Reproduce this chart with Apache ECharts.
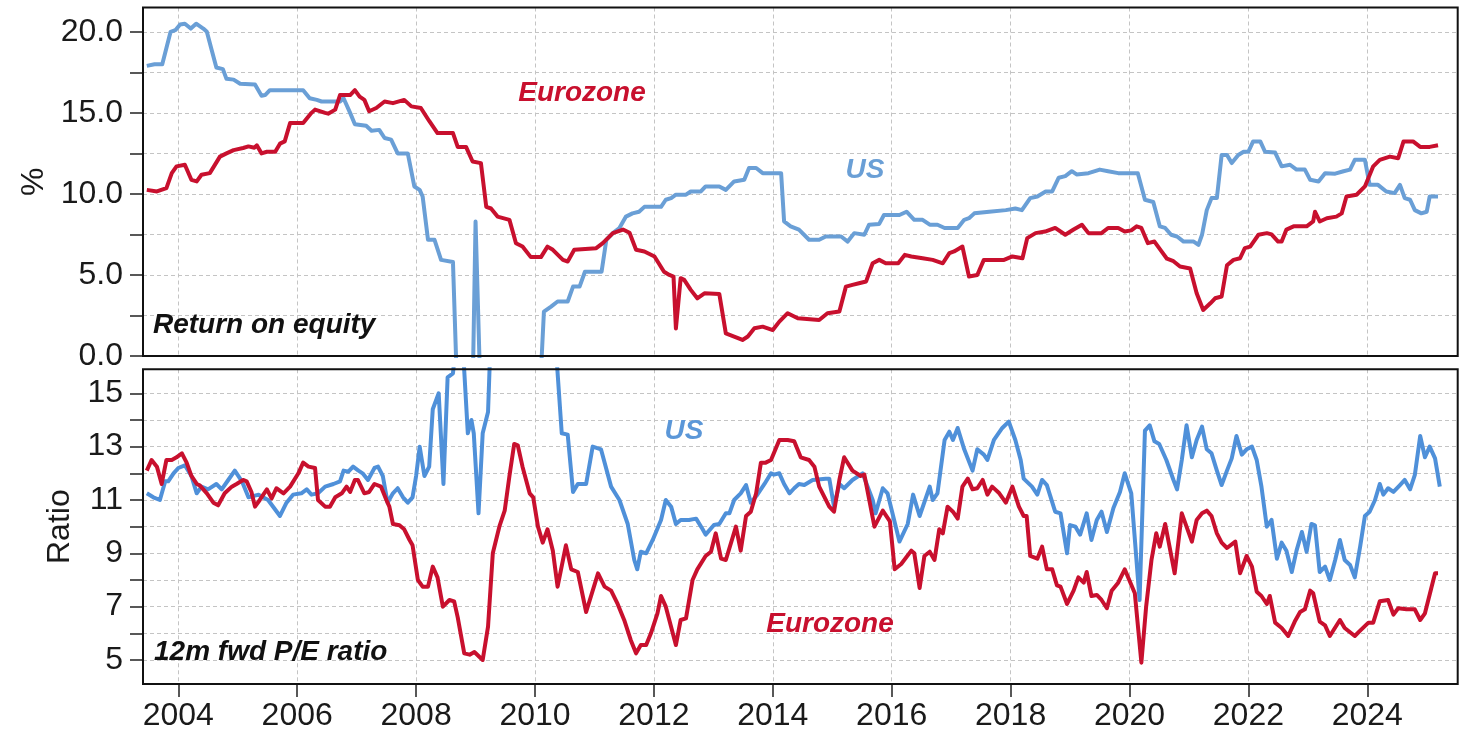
<!DOCTYPE html>
<html><head><meta charset="utf-8">
<script src="https://cdn.jsdelivr.net/npm/echarts@6/dist/echarts.min.js"></script>
<style>html,body{margin:0;padding:0;background:#fff}#c{width:1468px;height:740px}</style>
</head><body><div id="c"></div><script>
// x values are decimal years
const yearTicks = [2004,2006,2008,2010,2012,2014,2016,2018,2020,2022,2024];
const roeTicks = [0,2.5,5,7.5,10,12.5,15,17.5,20];
const roeLabels = [0,5,10,15,20];
const peTicks = [5,6,7,8,9,10,11,12,13,14,15];
const peLabels = [5,7,9,11,13,15];

// Return on equity, %
const roeUS = [[2003.47,17.9],[2003.60,18.0],[2003.73,18.0],[2003.80,19.0],[2003.87,20.0],[2003.95,20.1],[2004.03,20.45],[2004.11,20.5],[2004.21,20.2],[2004.30,20.5],[2004.42,20.2],[2004.48,20.0],[2004.56,18.9],[2004.64,17.8],[2004.75,17.7],[2004.81,17.1],[2004.93,17.05],[2005.04,16.8],[2005.29,16.75],[2005.40,16.06],[2005.46,16.1],[2005.54,16.4],[2006.10,16.4],[2006.21,15.9],[2006.33,15.8],[2006.41,15.7],[2006.72,15.7],[2006.78,15.9],[2006.89,15.0],[2006.97,14.3],[2007.16,14.2],[2007.25,13.9],[2007.38,13.95],[2007.47,13.45],[2007.58,13.35],[2007.69,12.5],[2007.86,12.5],[2007.97,10.46],[2008.06,10.25],[2008.11,9.84],[2008.20,7.17],[2008.31,7.17],[2008.42,5.93],[2008.62,5.8],[2008.68,-1],[2008.75,-8],[2008.83,-10],[2008.92,-9],[2009.00,8.3],[2009.08,-2],[2009.17,-8],[2009.33,-10],[2009.50,-8],[2009.67,-6],[2009.83,-4],[2010.00,-3],[2010.08,-2.5],[2010.15,2.74],[2010.27,3.05],[2010.38,3.36],[2010.55,3.36],[2010.64,4.28],[2010.75,4.28],[2010.84,5.2],[2011.12,5.2],[2011.20,7.17],[2011.31,7.58],[2011.42,7.9],[2011.53,8.6],[2011.64,8.8],[2011.75,8.9],[2011.84,9.2],[2012.12,9.2],[2012.20,9.64],[2012.29,9.74],[2012.37,9.95],[2012.54,9.95],[2012.62,10.15],[2012.79,10.15],[2012.87,10.46],[2013.10,10.46],[2013.21,10.25],[2013.35,10.77],[2013.52,10.87],[2013.60,11.6],[2013.72,11.6],[2013.83,11.28],[2014.14,11.28],[2014.19,8.3],[2014.30,8.0],[2014.44,7.8],[2014.61,7.17],[2014.78,7.17],[2014.89,7.37],[2015.15,7.37],[2015.26,7.06],[2015.37,7.58],[2015.54,7.48],[2015.62,8.1],[2015.79,8.15],[2015.87,8.7],[2016.13,8.7],[2016.25,8.9],[2016.38,8.4],[2016.52,8.4],[2016.64,8.1],[2016.77,8.1],[2016.89,7.9],[2017.11,7.9],[2017.22,8.4],[2017.30,8.5],[2017.39,8.8],[2017.64,8.9],[2017.92,9.0],[2018.08,9.1],[2018.19,9.0],[2018.33,9.74],[2018.45,9.84],[2018.59,10.15],[2018.70,10.15],[2018.81,11.0],[2018.92,11.1],[2019.03,11.4],[2019.11,11.2],[2019.31,11.28],[2019.50,11.5],[2019.64,11.4],[2019.81,11.28],[2020.14,11.28],[2020.26,9.64],[2020.40,9.5],[2020.51,8.0],[2020.60,7.9],[2020.70,7.48],[2020.80,7.37],[2020.91,7.06],[2021.08,7.06],[2021.16,6.86],[2021.22,7.48],[2021.30,9.0],[2021.38,9.74],[2021.47,9.74],[2021.55,12.4],[2021.64,12.4],[2021.72,11.9],[2021.83,12.4],[2021.92,12.6],[2022.00,12.6],[2022.08,13.24],[2022.20,13.24],[2022.28,12.6],[2022.45,12.55],[2022.56,11.7],[2022.70,11.8],[2022.81,11.5],[2022.95,11.5],[2023.04,10.87],[2023.18,10.77],[2023.29,11.28],[2023.46,11.25],[2023.60,11.4],[2023.71,11.5],[2023.79,12.1],[2023.96,12.1],[2024.04,10.56],[2024.18,10.56],[2024.32,10.15],[2024.46,10.05],[2024.55,10.56],[2024.63,9.74],[2024.72,9.64],[2024.80,9.0],[2024.91,8.8],[2025.00,8.9],[2025.05,9.84],[2025.19,9.84]];

const roeEZ = [[2003.47,10.25],[2003.64,10.15],[2003.80,10.36],[2003.89,11.28],[2003.97,11.7],[2004.11,11.8],[2004.22,10.87],[2004.31,10.77],[2004.39,11.18],[2004.53,11.28],[2004.70,12.3],[2004.81,12.5],[2004.93,12.7],[2005.09,12.83],[2005.18,12.93],[2005.28,12.85],[2005.32,13.0],[2005.40,12.5],[2005.49,12.6],[2005.63,12.6],[2005.71,13.1],[2005.79,13.24],[2005.88,14.37],[2006.10,14.37],[2006.24,15.0],[2006.30,15.2],[2006.47,15.0],[2006.52,14.95],[2006.64,15.2],[2006.72,16.1],[2006.89,16.1],[2006.97,16.4],[2007.05,16.0],[2007.13,15.8],[2007.21,15.1],[2007.33,15.3],[2007.47,15.7],[2007.61,15.6],[2007.80,15.8],[2007.92,15.4],[2008.08,15.3],[2008.22,14.5],[2008.36,13.75],[2008.62,13.75],[2008.70,12.9],[2008.84,12.9],[2008.95,12.0],[2009.09,11.9],[2009.18,9.2],[2009.26,9.1],[2009.37,8.6],[2009.57,8.4],[2009.68,6.96],[2009.79,6.75],[2009.93,6.1],[2010.10,6.1],[2010.21,6.75],[2010.30,6.55],[2010.47,5.93],[2010.55,5.83],[2010.66,6.55],[2011.03,6.65],[2011.14,6.96],[2011.31,7.58],[2011.48,7.8],[2011.59,7.6],[2011.70,6.55],[2011.84,6.45],[2012.01,6.14],[2012.17,5.2],[2012.26,5.0],[2012.33,4.9],[2012.37,1.7],[2012.45,4.8],[2012.51,4.7],[2012.62,4.08],[2012.73,3.56],[2012.85,3.87],[2013.10,3.83],[2013.21,1.4],[2013.35,1.2],[2013.49,0.99],[2013.58,1.2],[2013.69,1.71],[2013.83,1.81],[2014.00,1.6],[2014.11,2.12],[2014.25,2.64],[2014.42,2.33],[2014.78,2.22],[2014.92,2.64],[2015.12,2.74],[2015.23,4.28],[2015.34,4.39],[2015.45,4.49],[2015.57,4.6],[2015.68,5.72],[2015.79,5.93],[2015.90,5.72],[2016.11,5.72],[2016.22,6.24],[2016.33,6.14],[2016.52,6.03],[2016.69,5.93],[2016.86,5.72],[2016.97,6.35],[2017.05,6.45],[2017.19,6.75],[2017.30,4.9],[2017.44,5.0],[2017.55,5.93],[2017.89,5.93],[2018.03,6.14],[2018.20,6.03],[2018.28,7.27],[2018.42,7.58],[2018.58,7.68],[2018.75,7.9],[2018.92,7.48],[2019.06,7.8],[2019.20,8.1],[2019.31,7.58],[2019.53,7.58],[2019.64,7.9],[2019.81,7.9],[2019.92,7.68],[2020.03,7.75],[2020.12,8.0],[2020.20,7.9],[2020.31,6.96],[2020.42,7.06],[2020.53,6.5],[2020.63,6.0],[2020.74,5.85],[2020.85,5.52],[2021.02,5.4],[2021.13,3.87],[2021.24,2.84],[2021.36,3.25],[2021.44,3.56],[2021.55,3.67],[2021.64,5.6],[2021.75,5.93],[2021.86,6.03],[2021.94,6.65],[2022.03,6.75],[2022.17,7.48],[2022.31,7.58],[2022.39,7.5],[2022.50,7.06],[2022.56,7.06],[2022.64,7.8],[2022.76,8.0],[2022.98,8.0],[2023.09,8.3],[2023.12,8.9],[2023.20,8.3],[2023.32,8.5],[2023.48,8.6],[2023.57,8.8],[2023.65,9.84],[2023.82,9.95],[2023.96,10.46],[2024.10,11.7],[2024.21,12.1],[2024.38,12.3],[2024.52,12.2],[2024.61,13.24],[2024.77,13.24],[2024.89,12.9],[2025.05,12.9],[2025.19,13.0]];

// 12m forward P/E ratio
const peUS = [[2003.47,11.25],[2003.58,11.1],[2003.69,11.0],[2003.78,11.7],[2003.83,11.7],[2003.92,12.0],[2004.00,12.2],[2004.11,12.3],[2004.22,11.9],[2004.31,11.25],[2004.39,11.5],[2004.50,11.4],[2004.64,11.6],[2004.73,11.4],[2004.84,11.75],[2004.95,12.1],[2005.07,11.7],[2005.18,11.1],[2005.35,11.2],[2005.51,11.0],[2005.71,10.4],[2005.82,10.9],[2005.93,11.2],[2006.07,11.25],[2006.16,11.4],[2006.24,11.2],[2006.35,11.25],[2006.47,11.5],[2006.61,11.6],[2006.72,11.7],[2006.78,12.1],[2006.86,12.06],[2006.94,12.25],[2007.03,12.1],[2007.10,12.0],[2007.19,11.75],[2007.30,12.2],[2007.36,12.25],[2007.44,11.9],[2007.52,10.9],[2007.61,11.25],[2007.69,11.44],[2007.78,11.1],[2007.86,10.9],[2007.94,11.1],[2008.00,11.9],[2008.06,13.0],[2008.14,11.9],[2008.22,12.25],[2008.28,14.4],[2008.38,15.0],[2008.46,11.6],[2008.53,15.6],[2008.62,15.75],[2008.70,17.5],[2008.78,17.0],[2008.87,13.5],[2008.93,14.0],[2008.97,13.5],[2009.05,10.5],[2009.12,13.5],[2009.21,14.3],[2009.30,20],[2009.45,25],[2009.70,24],[2010.00,22],[2010.15,21],[2010.28,19],[2010.45,13.5],[2010.55,13.45],[2010.64,11.3],[2010.72,11.6],[2010.86,11.6],[2010.97,13.0],[2011.11,12.9],[2011.28,11.5],[2011.42,11.0],[2011.56,10.1],[2011.67,8.75],[2011.72,8.4],[2011.78,9.06],[2011.87,9.0],[2011.98,9.5],[2012.12,10.25],[2012.20,11.0],[2012.29,10.75],[2012.37,10.1],[2012.45,10.25],[2012.59,10.25],[2012.71,10.3],[2012.82,9.9],[2012.87,9.7],[2013.01,10.06],[2013.10,10.1],[2013.21,10.5],[2013.27,10.5],[2013.35,11.0],[2013.46,11.25],[2013.55,11.56],[2013.63,10.9],[2013.74,11.2],[2013.86,11.6],[2013.97,12.0],[2014.02,11.95],[2014.11,12.0],[2014.19,11.6],[2014.28,11.25],[2014.36,11.44],[2014.44,11.6],[2014.53,11.56],[2014.67,11.75],[2014.89,11.8],[2014.95,11.8],[2015.03,10.75],[2015.12,11.6],[2015.20,11.44],[2015.34,11.75],[2015.51,12.0],[2015.68,11.0],[2015.73,10.5],[2015.85,11.44],[2015.93,11.25],[2016.13,9.44],[2016.27,10.1],[2016.36,11.2],[2016.47,10.4],[2016.64,11.5],[2016.69,11.0],[2016.77,11.25],[2016.89,13.25],[2016.97,13.56],[2017.03,13.25],[2017.11,13.7],[2017.22,12.9],[2017.36,12.1],[2017.44,12.9],[2017.55,12.7],[2017.61,12.5],[2017.72,13.25],[2017.86,13.7],[2017.97,13.94],[2018.08,13.25],[2018.17,12.5],[2018.22,11.8],[2018.36,11.5],[2018.45,11.2],[2018.53,11.75],[2018.61,11.56],[2018.75,10.56],[2018.84,10.5],[2018.95,9.0],[2019.00,10.06],[2019.09,10.0],[2019.17,9.7],[2019.28,10.5],[2019.36,9.5],[2019.45,10.25],[2019.53,10.56],[2019.62,9.8],[2019.73,10.7],[2019.84,11.3],[2019.92,12.0],[2020.03,11.25],[2020.17,7.25],[2020.26,13.6],[2020.34,13.8],[2020.42,13.2],[2020.50,13.1],[2020.62,12.5],[2020.74,11.75],[2020.80,11.4],[2020.88,12.5],[2020.96,13.8],[2021.05,12.6],[2021.13,13.25],[2021.22,13.75],[2021.30,12.9],[2021.38,12.75],[2021.47,12.1],[2021.55,11.56],[2021.64,12.1],[2021.72,12.56],[2021.80,13.4],[2021.89,12.7],[2021.97,12.9],[2022.06,13.0],[2022.14,12.5],[2022.22,11.5],[2022.31,10.0],[2022.39,10.25],[2022.48,8.8],[2022.56,9.4],[2022.64,9.1],[2022.73,8.3],[2022.81,9.1],[2022.90,9.8],[2022.98,9.06],[2023.06,10.1],[2023.12,10.05],[2023.20,8.3],[2023.29,8.5],[2023.37,8.0],[2023.46,8.75],[2023.54,9.5],[2023.62,8.75],[2023.71,8.56],[2023.79,8.1],[2023.88,9.25],[2023.96,10.4],[2024.04,10.56],[2024.13,11.0],[2024.21,11.6],[2024.27,11.2],[2024.35,11.44],[2024.44,11.3],[2024.55,11.56],[2024.63,11.75],[2024.72,11.4],[2024.80,11.94],[2024.89,13.4],[2024.97,12.6],[2025.05,13.0],[2025.14,12.56],[2025.22,11.5]];

const peEZ = [[2003.47,12.1],[2003.55,12.5],[2003.64,12.25],[2003.72,11.6],[2003.80,12.5],[2003.89,12.5],[2003.97,12.6],[2004.06,12.75],[2004.14,12.4],[2004.22,11.9],[2004.31,11.6],[2004.36,11.55],[2004.48,11.25],[2004.59,10.9],[2004.67,10.8],[2004.78,11.25],[2004.90,11.5],[2004.98,11.6],[2005.09,11.75],[2005.15,11.7],[2005.23,11.3],[2005.29,10.75],[2005.37,11.0],[2005.49,11.4],[2005.57,11.06],[2005.65,11.44],[2005.77,11.25],[2005.88,11.5],[2006.02,12.0],[2006.10,12.4],[2006.19,12.25],[2006.30,12.2],[2006.35,11.0],[2006.47,10.75],[2006.55,10.75],[2006.64,11.1],[2006.75,11.25],[2006.83,11.5],[2006.89,11.3],[2006.97,11.75],[2007.02,11.75],[2007.13,11.25],[2007.21,11.3],[2007.30,11.6],[2007.41,11.5],[2007.50,11.0],[2007.55,10.75],[2007.61,10.1],[2007.72,10.05],[2007.80,9.9],[2007.89,9.5],[2007.94,9.3],[2008.03,8.0],[2008.11,7.75],[2008.20,7.75],[2008.28,8.5],[2008.36,8.1],[2008.45,7.0],[2008.56,7.25],[2008.64,7.2],[2008.70,6.6],[2008.81,5.25],[2008.90,5.2],[2008.98,5.3],[2009.12,5.0],[2009.21,6.25],[2009.29,9.0],[2009.40,10.0],[2009.49,10.6],[2009.57,11.9],[2009.65,13.1],[2009.71,13.05],[2009.79,12.25],[2009.91,11.25],[2009.97,11.1],[2010.05,10.0],[2010.13,9.4],[2010.21,9.9],[2010.30,9.1],[2010.38,7.75],[2010.52,9.3],[2010.61,8.4],[2010.72,8.3],[2010.86,6.8],[2011.06,8.25],[2011.17,7.75],[2011.28,7.6],[2011.39,7.1],[2011.50,6.5],[2011.61,5.75],[2011.70,5.25],[2011.78,5.56],[2011.87,5.56],[2011.95,6.0],[2012.06,6.75],[2012.12,7.4],[2012.20,7.0],[2012.37,5.56],[2012.45,6.5],[2012.54,6.56],[2012.65,8.0],[2012.73,8.4],[2012.87,8.9],[2012.96,9.06],[2013.04,9.75],[2013.13,8.8],[2013.21,8.75],[2013.38,10.0],[2013.46,9.1],[2013.55,10.4],[2013.63,10.56],[2013.72,11.25],[2013.80,12.4],[2013.88,12.4],[2013.97,12.5],[2014.11,13.25],[2014.25,13.25],[2014.36,13.2],[2014.47,12.6],[2014.61,12.5],[2014.70,12.25],[2014.78,11.5],[2014.95,10.75],[2015.03,10.56],[2015.12,11.75],[2015.20,12.6],[2015.34,12.1],[2015.48,11.9],[2015.54,11.95],[2015.71,10.0],[2015.85,10.6],[2015.97,10.2],[2016.05,8.4],[2016.16,8.6],[2016.33,9.1],[2016.38,9.0],[2016.47,7.7],[2016.55,8.9],[2016.64,9.06],[2016.72,8.75],[2016.80,9.9],[2016.86,9.75],[2016.94,10.75],[2017.03,10.56],[2017.11,10.3],[2017.19,11.5],[2017.28,11.8],[2017.36,11.4],[2017.44,11.44],[2017.53,11.75],[2017.61,11.2],[2017.69,11.5],[2017.81,11.25],[2017.92,10.9],[2018.03,11.5],[2018.14,10.75],[2018.22,10.4],[2018.27,10.4],[2018.33,8.9],[2018.45,8.8],[2018.53,9.25],[2018.61,8.4],[2018.70,8.4],[2018.78,7.8],[2018.84,7.75],[2018.95,7.1],[2019.06,7.6],[2019.14,8.1],[2019.23,7.9],[2019.28,8.3],[2019.36,7.4],[2019.45,7.44],[2019.53,7.25],[2019.62,6.94],[2019.70,7.6],[2019.81,7.9],[2019.92,8.4],[2020.09,7.5],[2020.20,4.9],[2020.28,7.0],[2020.37,8.75],[2020.45,9.75],[2020.51,9.25],[2020.60,10.1],[2020.76,8.25],[2020.88,10.5],[2021.05,9.44],[2021.13,10.25],[2021.22,10.5],[2021.30,10.6],[2021.38,10.4],[2021.47,9.75],[2021.55,9.4],[2021.64,9.2],[2021.78,9.44],[2021.86,8.25],[2021.97,8.9],[2022.06,8.5],[2022.14,7.56],[2022.22,7.4],[2022.31,7.1],[2022.36,7.4],[2022.45,6.4],[2022.56,6.2],[2022.67,5.9],[2022.78,6.44],[2022.87,6.8],[2022.95,6.9],[2023.04,7.6],[2023.09,7.5],[2023.20,6.44],[2023.29,6.3],[2023.37,5.9],[2023.54,6.5],[2023.62,6.2],[2023.79,5.9],[2023.88,6.1],[2024.02,6.4],[2024.10,6.4],[2024.21,7.2],[2024.35,7.25],[2024.44,6.7],[2024.52,6.94],[2024.66,6.9],[2024.80,6.9],[2024.89,6.5],[2024.97,6.75],[2025.14,8.25],[2025.19,8.25]];

const RED = '#c8102e', BLUE_TOP = '#6a9fd6', BLUE_BOT = '#4f90d9';
const FONT = '"Liberation Sans", Arial, sans-serif';
const X_MIN = 2003.406, X_MAX = 2025.521;

const chart = echarts.init(document.getElementById('c'), null, {renderer: 'canvas'});
const gridLine = {show: true, lineStyle: {color: '#c4c4c4', width: 1, type: [4, 3]}};
const tickStyle = {color: '#222', width: 1.5};
const labelStyle = {color: '#1a1a1a', fontSize: 32, fontFamily: FONT};

function lineSeries(name, data, color, xi) {
  return {name, type: 'line', data, xAxisIndex: xi, yAxisIndex: xi, showSymbol: false, symbol: 'none',
    clip: true, lineStyle: {color, width: 4, join: 'round'}, itemStyle: {color}, animation: false};
}
function annot(text, x, y, color, align) {
  return {type: 'text', x, y, z: 100, style: {text, fill: color, fontSize: 28, fontWeight: 'bold', fontStyle: 'italic',
    fontFamily: FONT, align: align || 'center', verticalAlign: 'middle'}};
}

chart.setOption({
  animation: false,
  backgroundColor: '#fff',
  grid: [
    {left: 143, top: 7.5, width: 1314.7, height: 348.5, show: true, z: 10, backgroundColor: 'transparent', borderColor: '#111', borderWidth: 2, containLabel: false},
    {left: 143, top: 369.3, width: 1314.7, height: 314.7, show: true, z: 10, backgroundColor: 'transparent', borderColor: '#111', borderWidth: 2, containLabel: false}
  ],
  xAxis: [
    {gridIndex: 0, type: 'value', min: X_MIN, max: X_MAX, axisLine: {show: false},
     axisTick: {show: false, customValues: yearTicks}, axisLabel: {show: false, customValues: yearTicks},
     splitLine: gridLine},
    {gridIndex: 1, type: 'value', min: X_MIN, max: X_MAX, axisLine: {show: false},
     axisTick: {show: true, inside: false, length: 13, lineStyle: tickStyle, customValues: yearTicks},
     axisLabel: Object.assign({customValues: yearTicks, margin: 16, formatter: v => String(Math.round(v))}, labelStyle),
     splitLine: gridLine}
  ],
  yAxis: [
    {gridIndex: 0, type: 'value', min: 0, max: 21.5, axisLine: {show: false},
     axisTick: {show: true, inside: false, length: 13, lineStyle: tickStyle, customValues: roeTicks},
     axisLabel: Object.assign({customValues: roeLabels, margin: 20, formatter: v => Number(v).toFixed(1)}, labelStyle),
     splitLine: gridLine,
     name: '%', nameLocation: 'middle', nameGap: 93, nameTextStyle: {color: '#1a1a1a', fontSize: 32, fontFamily: FONT}},
    {gridIndex: 1, type: 'value', min: 4.1, max: 15.9, axisLine: {show: false},
     axisTick: {show: true, inside: false, length: 13, lineStyle: tickStyle, customValues: peTicks},
     axisLabel: Object.assign({customValues: peLabels, margin: 20, formatter: v => String(Math.round(v))}, labelStyle),
     splitLine: gridLine,
     name: 'Ratio', nameLocation: 'middle', nameGap: 66, nameTextStyle: {color: '#1a1a1a', fontSize: 32, fontFamily: FONT}}
  ],
  series: [
    lineSeries('US', roeUS, BLUE_TOP, 0),
    lineSeries('Eurozone', roeEZ, RED, 0),
    lineSeries('US', peUS, BLUE_BOT, 1),
    lineSeries('Eurozone', peEZ, RED, 1)
  ],
  graphic: [
    annot('Eurozone', 582, 93, RED),
    annot('US', 865, 170, BLUE_TOP),
    annot('Return on equity', 153, 325, '#111', 'left'),
    annot('12m fwd P/E ratio', 154, 652, '#111', 'left'),
    annot('US', 684, 431, '#5b97d8'),
    annot('Eurozone', 830, 624, RED)
  ]
});
</script></body></html>
